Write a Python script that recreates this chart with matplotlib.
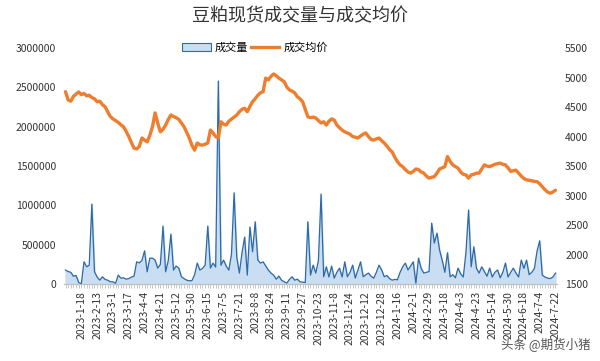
import numpy as np
import matplotlib.pyplot as plt

plt.rcParams['font.family'] = ['Noto Sans CJK SC', 'DejaVu Sans']

# tick labels (one every 6 points, first at index 6)
tick_labels = ['2023-1-18', '2023-2-13', '2023-3-1', '2023-3-17', '2023-4-4', '2023-4-21',
               '2023-5-12', '2023-5-30', '2023-6-15', '2023-7-5', '2023-7-21', '2023-8-8',
               '2023-8-24', '2023-9-11', '2023-9-27', '2023-10-23', '2023-11-8', '2023-11-24',
               '2023-12-12', '2023-12-28', '2024-1-16', '2024-2-1', '2024-2-29', '2024-3-18',
               '2024-4-3', '2024-4-23', '2024-5-14', '2024-5-30', '2024-6-18', '2024-7-4',
               '2024-7-22']

# 成交量 (thousand tonnes -> scaled below)
volume_k = [178, 160, 150, 100, 110, 20, 5, 283, 220, 240,
            1017, 156, 90, 50, 93, 60, 50, 30, 30, 10,
            114, 76, 80, 63, 70, 89, 100, 283, 270, 300,
            423, 156, 330, 330, 305, 203, 250, 737, 156, 300,
            636, 178, 230, 203, 93, 70, 50, 42, 45, 120,
            267, 178, 200, 241, 737, 203, 267, 216, 2580, 240,
            305, 229, 178, 380, 1160, 343, 140, 400, 597, 114,
            725, 411, 792, 305, 267, 283, 230, 178, 140, 114,
            63, 102, 50, 30, 13, 60, 93, 50, 63, 30,
            25, 20, 792, 114, 241, 140, 300, 1144, 93, 220,
            90, 229, 76, 150, 203, 90, 283, 93, 150, 241,
            76, 180, 283, 93, 120, 140, 100, 76, 150, 241,
            180, 93, 110, 70, 50, 60, 55, 150, 220, 267,
            180, 230, 283, 10, 330, 200, 140, 150, 160, 775,
            521, 648, 432, 300, 150, 398, 93, 120, 80, 203,
            130, 90, 400, 941, 220, 474, 200, 140, 220, 160,
            100, 203, 90, 150, 180, 80, 150, 267, 90, 150,
            203, 140, 90, 305, 200, 305, 120, 150, 200, 420,
            550, 114, 90, 76, 70, 90, 140]

# 成交均价
price = [4760, 4620, 4600, 4680, 4720, 4755, 4710, 4730, 4690, 4700,
         4660, 4640, 4590, 4600, 4540, 4505, 4420, 4340, 4300, 4270,
         4240, 4200, 4165, 4090, 4000, 3900, 3805, 3790, 3830, 3975,
         3940, 3910, 4020, 4165, 4400, 4230, 4080, 4120, 4195, 4290,
         4365, 4340, 4320, 4290, 4230, 4165, 4070, 3975, 3850, 3770,
         3890, 3860, 3855, 3870, 3890, 4110, 4060, 4000, 3975, 4250,
         4210, 4195, 4260, 4295, 4330, 4365, 4420, 4460, 4480, 4420,
         4510, 4590, 4640, 4700, 4740, 4760, 4990, 4960, 5020, 5060,
         5030, 4990, 4960, 4930, 4840, 4790, 4770, 4740, 4675, 4640,
         4590, 4460, 4335, 4320, 4330, 4315, 4270, 4230, 4250, 4195,
         4260, 4300, 4280, 4195, 4150, 4110, 4080, 4060, 4040, 4000,
         3990, 3975, 4010, 4040, 4060, 4000, 3950, 3940, 3960, 3975,
         3930, 3890, 3840, 3780, 3740, 3650, 3575, 3520, 3490, 3440,
         3400, 3380, 3410, 3450, 3440, 3400, 3380, 3330, 3295, 3310,
         3320, 3380, 3450, 3470, 3490, 3660, 3580, 3520, 3490, 3465,
         3400, 3360, 3350, 3295, 3350, 3360, 3380, 3380, 3450, 3520,
         3500, 3490, 3510, 3530, 3540, 3550, 3530, 3520, 3470, 3410,
         3420, 3430, 3380, 3330, 3290, 3265, 3260, 3250, 3240, 3235,
         3200, 3150, 3100, 3060, 3040, 3060, 3090]

volume = np.array(volume_k) * 1000
x = np.arange(len(volume))

fig = plt.figure(figsize=(6, 3.61), dpi=100)
ax = fig.add_axes([0.107, 0.213, 0.821, 0.654])
ax2 = ax.twinx()

ax.fill_between(x, volume, 0, color='#c9ddf3', zorder=1)
ax.plot(x, volume, color='#2e6aa6', lw=0.9, zorder=2)
ax2.plot(x, price, color='#ee7d2e', lw=2.4, solid_capstyle='round', zorder=3)

ax.set_xlim(-0.5, len(x) - 0.5)
ax.set_ylim(0, 3000000)
ax.set_yticks(np.arange(0, 3000001, 500000))
ax.set_yticklabels([str(v) for v in range(0, 3000001, 500000)])
ax2.set_ylim(1500, 5500)
ax2.set_yticks(np.arange(1500, 5501, 500))

tick_pos = [6 + 6 * k for k in range(len(tick_labels))]
ax.set_xticks(tick_pos)
ax.set_xticklabels(tick_labels, rotation=90, fontsize=7.5, color='#333333')
ax.set_xticks(x, minor=True)
ax.tick_params(axis='x', which='both', length=3, color='#bfbfbf', width=0.6, pad=2)
ax.tick_params(axis='y', length=0, labelsize=7.5, labelcolor='#333333', pad=6)
ax2.tick_params(axis='y', length=0, labelsize=7.5, labelcolor='#333333', pad=6)

for a in (ax, ax2):
    for s in ('top', 'left', 'right'):
        a.spines[s].set_visible(False)
    a.spines['bottom'].set_color('#bfbfbf')
    a.spines['bottom'].set_linewidth(0.8)

fig.text(0.5, 0.955, '豆粕现货成交量与成交均价', ha='center', va='center',
         fontsize=13, color='#333333')

from matplotlib.patches import Patch
from matplotlib.lines import Line2D
handles = [Patch(facecolor='#c9ddf3', edgecolor='#2e6aa6', lw=0.8, label='成交量'),
           Line2D([0], [0], color='#ee7d2e', lw=2.4, label='成交均价')]
fig.legend(handles=handles, loc='center', bbox_to_anchor=(0.425, 0.868), ncol=2,
           frameon=False, fontsize=8, handlelength=2.6, handletextpad=0.4,
           columnspacing=0.2)

fig.text(0.985, 0.045, '头条 @期货小猪', ha='right', va='center', fontsize=9,
         color='#555555')

fig.savefig('out.png', dpi=100)
